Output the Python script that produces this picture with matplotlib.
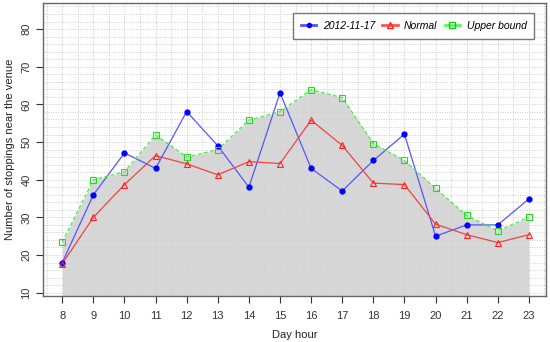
import matplotlib
matplotlib.use("Agg")
import matplotlib.pyplot as plt
import numpy as np

plt.rcParams['font.family'] = ['Liberation Sans', 'DejaVu Sans']

hours = list(range(8, 24))
day_2012_11_17 = [18, 36, 47.1, 43, 58.1, 49, 38, 63.1, 43, 37, 45.1, 52.1, 25, 28, 28, 34.9]
normal = [17.7, 30, 38.7, 46.4, 44.2, 41.3, 44.8, 44.3, 55.8, 49.1, 39.1, 38.7, 28.2, 25.4, 23.3, 25.4]
upper_bound = [23.4, 40, 42.1, 51.9, 46, 48, 55.8, 58.1, 63.9, 61.8, 49.6, 45.1, 37.7, 30.5, 26.4, 30.1]

fig = plt.figure(figsize=(5.5, 3.42), dpi=100)
ax = fig.add_axes([0.0787, 0.1345, 0.9140, 0.8565])

ymin, ymax = 9.12, 86.9
ax.set_xlim(7.39, 23.55)
ax.set_ylim(ymin, ymax)

# grid every half hour / every 2 units
for x in np.arange(7.5, 24, 0.5):
    ax.axvline(x, color='#cccccc', lw=0.7, ls=(0, (1, 1.5)), zorder=0)
for y in np.arange(10, 87, 2):
    ax.axhline(y, color='#cccccc', lw=0.7, ls=(0, (1, 1.5)), zorder=0)

ax.fill_between(hours, upper_bound, ymin, color='#cfcfcf', alpha=0.82, lw=0, zorder=1)

ax.plot(hours, day_2012_11_17, color='#5555ff', lw=0.9, zorder=3)
ax.plot(hours, day_2012_11_17, ls='none', marker='o', ms=3.5, color='#0000ff', zorder=4)
ax.plot(hours, normal, color='#ee4444', lw=0.9, zorder=3)
ax.plot(hours, normal, ls='none', marker='^', ms=5, mfc='none', mec='#ff2222', mew=0.8, zorder=4)
ax.plot(hours, upper_bound, color='#44ee44', lw=0.9, ls=(0, (3, 2)), zorder=3)
ax.plot(hours, upper_bound, ls='none', marker='s', ms=4.5, mfc='none', mec='#22dd22', mew=0.8, zorder=4)

h1, = ax.plot([], [], color='#5555ff', lw=2, marker='o', ms=3, mfc='#0000ff', mec='#0000ff')
h2, = ax.plot([], [], color='#ff5555', lw=2, marker='^', ms=5, mfc='none', mec='#ff2222')
h3, = ax.plot([], [], color='#55ff55', lw=2, marker='s', ms=4, mfc='none', mec='#22bb22')
leg = ax.legend([h1, h2, h3], ['2012-11-17', 'Normal', 'Upper bound'], loc='upper right',
                ncol=3, prop={'style': 'italic', 'size': 7.5}, frameon=True,
                fancybox=False, handlelength=1.5, handletextpad=0.6, columnspacing=0.7,
                borderpad=0.75, bbox_to_anchor=(0.987, 0.983))
leg.get_frame().set_edgecolor('#555555')
leg.get_frame().set_linewidth(1.0)
leg.set_zorder(5)

ax.set_xticks(hours)
ax.set_yticks(range(10, 90, 10))
ax.tick_params(axis='both', labelsize=8, colors='#333333', length=5, width=0.8, direction='out')
ax.tick_params(axis='x', pad=6)
plt.setp(ax.get_yticklabels(), rotation=90, va='center')
for s in ax.spines.values():
    s.set_color('#666666')
    s.set_linewidth(1.0)

ax.set_xlabel('Day hour', fontsize=8, color='#222222', labelpad=6)
ax.set_ylabel('Number of stoppings near the venue', fontsize=8, color='#222222', labelpad=5)

fig.savefig('out.png', dpi=100)
